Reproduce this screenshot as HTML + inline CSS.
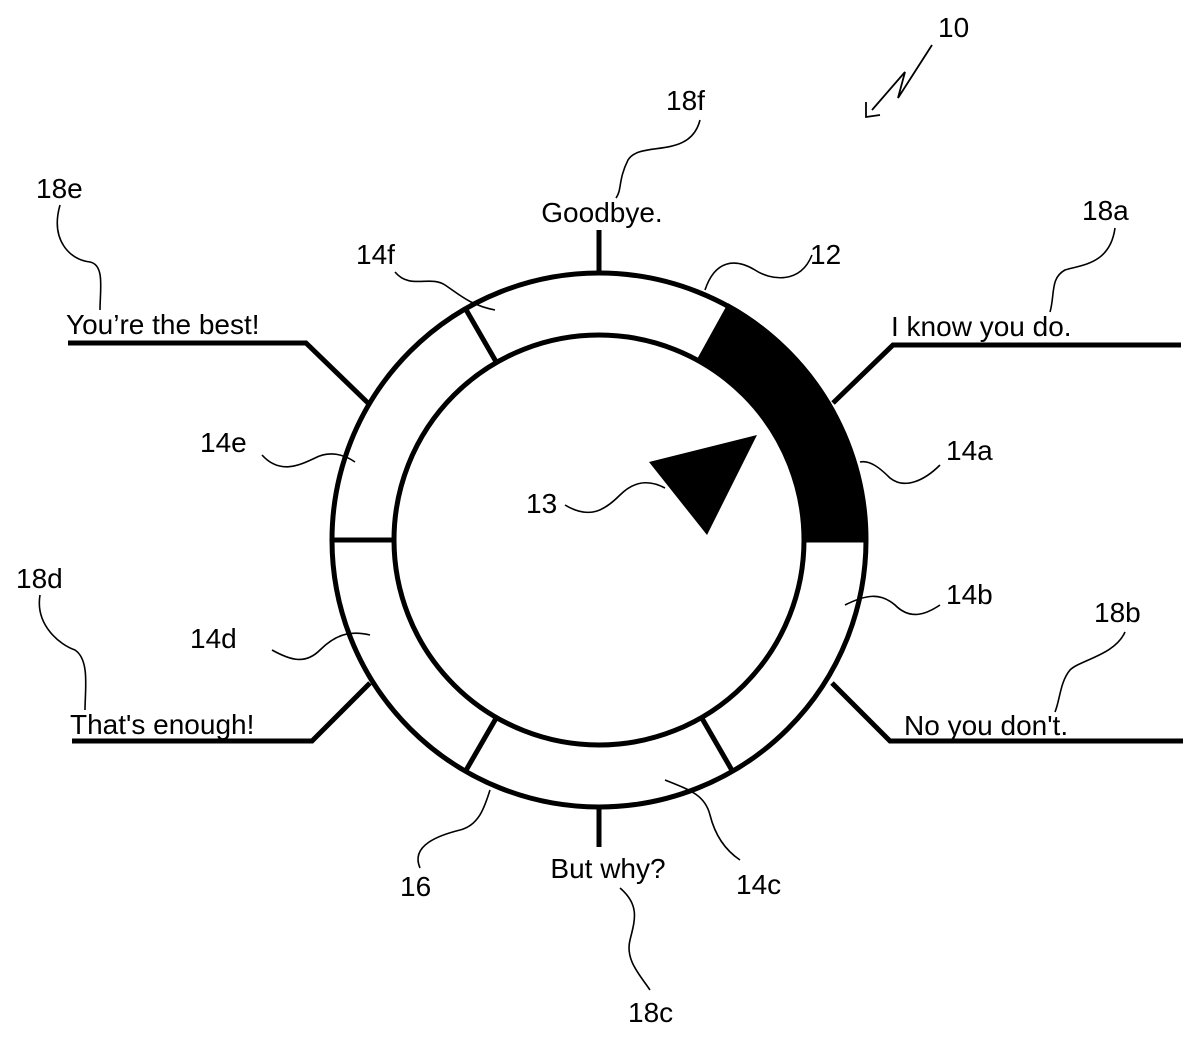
<!DOCTYPE html>
<html><head><meta charset="utf-8"><style>
html,body{margin:0;padding:0;background:#fff}
svg{display:block}
text{font-family:"Liberation Sans",sans-serif;font-size:28px;fill:#000}
</style></head><body>
<svg width="1200" height="1038" viewBox="0 0 1200 1038" xmlns="http://www.w3.org/2000/svg">
<g stroke="#000" fill="none" stroke-width="5">
<path d="M866,540 A267,267 0 0 0 728.4,304.5 L698.4,358.7 A205,205 0 0 1 804,540 Z" fill="#000" stroke="#000" stroke-width="2"/>
<circle cx="599" cy="540" r="267"/>
<circle cx="599" cy="540" r="205"/>
<line x1="332" y1="540" x2="394" y2="540"/>
<line x1="804" y1="540" x2="866" y2="540"/>
<line x1="465.5" y1="308.8" x2="496.5" y2="362.5"/>
<line x1="465.5" y1="771.2" x2="496.5" y2="717.5"/>
<line x1="732.5" y1="771.2" x2="701.5" y2="717.5"/>
<line x1="599" y1="230" x2="599" y2="273"/>
<line x1="599" y1="807" x2="599" y2="847"/>
<polyline points="368,403 306,343 68,343"/>
<polyline points="833,403 893,345 1181,345"/>
<polyline points="370,683 312,741 72,741"/>
<polyline points="832,683 890,741 1183,741"/>
</g>
<polygon points="649,462 757,435 707,535" fill="#000"/>
<g stroke="#000" fill="none" stroke-width="1.6">
<path d="M700,120 C690,160 640,140 628,160 C618,180 622,190 616,198"/>
<path d="M812,255 C800,285 770,280 755,270 C735,258 715,260 705,290"/>
<path d="M395,272 C410,290 430,275 445,285 C460,295 470,305 495,310"/>
<path d="M60,205 C50,240 70,260 90,262 C105,265 100,290 100,310"/>
<path d="M1115,228 C1110,265 1080,265 1065,270 C1050,278 1055,295 1050,312"/>
<path d="M262,455 C280,475 300,465 315,458 C330,450 345,455 355,462"/>
<path d="M940,465 C925,480 905,490 890,478 C880,468 870,460 860,462"/>
<path d="M565,505 C590,520 605,510 620,495 C635,480 650,480 665,488"/>
<path d="M940,605 C925,615 910,620 895,605 C880,592 865,595 845,605"/>
<path d="M1125,632 C1115,655 1080,660 1070,670 C1060,682 1060,700 1055,712"/>
<path d="M40,595 C35,625 60,645 75,650 C90,660 85,690 85,710"/>
<path d="M272,650 C290,660 305,665 320,650 C335,635 350,630 370,635"/>
<path d="M665,780 C690,790 705,795 710,815 C715,835 725,850 740,860"/>
<path d="M420,868 C410,845 440,835 460,830 C480,825 485,805 490,790"/>
<path d="M620,888 C640,905 635,920 630,940 C625,960 640,975 650,990"/>
</g>
<text x="602" y="222" text-anchor="middle">Goodbye.</text>
<text x="66" y="334">You’re the best!</text>
<text x="891" y="336">I know you do.</text>
<text x="70" y="734">That's enough!</text>
<text x="904" y="735">No you don't.</text>
<text x="608" y="878" text-anchor="middle">But why?</text>
<text x="938" y="37">10</text>
<text x="666" y="110">18f</text>
<text x="810" y="264">12</text>
<text x="356" y="264">14f</text>
<text x="36" y="198">18e</text>
<text x="1082" y="220">18a</text>
<text x="200" y="452">14e</text>
<text x="946" y="460">14a</text>
<text x="526" y="513">13</text>
<text x="946" y="604">14b</text>
<text x="1094" y="622">18b</text>
<text x="16" y="588">18d</text>
<text x="190" y="648">14d</text>
<text x="400" y="896">16</text>
<text x="736" y="894">14c</text>
<text x="628" y="1022">18c</text>
<polyline points="932,45 898,98 905,72 872,110" stroke="#000" fill="none" stroke-width="1.8"/>
<polyline points="866,102 866,117 880,115" stroke="#000" fill="none" stroke-width="1.8"/>
</svg>
</body></html>
